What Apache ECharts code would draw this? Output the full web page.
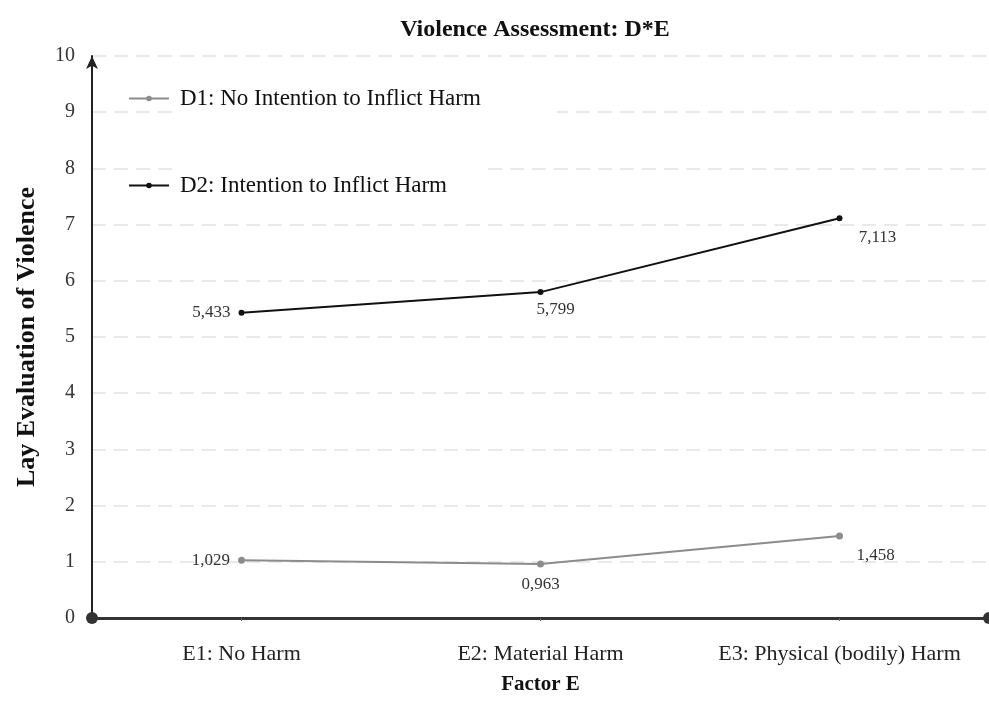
<!DOCTYPE html>
<html>
<head>
<meta charset="utf-8">
<script src="https://cdn.jsdelivr.net/npm/echarts@6/dist/echarts.min.js"></script>
<style>html,body{margin:0;padding:0;background:#fff}#c{width:989px;height:720px}</style>
</head>
<body>
<div id="c"></div>
<script>
var categories = ['E1: No Harm', 'E2: Material Harm', 'E3: Physical (bodily) Harm'];
var seriesNames = ['D1: No Intention to Inflict Harm', 'D2: Intention to Inflict Harm'];
var d1Values = [1.029, 0.963, 1.458];
var d2Values = [5.433, 5.799, 7.113];
var yTicks = [0, 1, 2, 3, 4, 5, 6, 7, 8, 9, 10];

var FONT = '"Liberation Serif", "Times New Roman", serif';
var chart = echarts.init(document.getElementById('c'), null, {renderer: 'canvas'});

function fmt(p) { return String(p.value.toFixed(3)).replace('.', ','); }

var d1Labels = [
  {position: 'left', distance: 8, offset: [0, 0]},
  {position: 'bottom', distance: 9, offset: [0, 0]},
  {position: 'bottom', distance: 7, offset: [36, 0]}
];
var d2Labels = [
  {position: 'left', distance: 8, offset: [0, 0]},
  {position: 'bottom', distance: 6, offset: [15, 0]},
  {position: 'bottom', distance: 8, offset: [38, 0]}
];

function build(vals, labs) {
  return vals.map(function (v, i) {
    return {value: v, label: Object.assign({show: true}, labs[i])};
  });
}

var option = {
  backgroundColor: '#fff',
  animation: false,
  title: {
    text: 'Violence Assessment: D*E',
    left: 530, top: 13, textAlign: 'center',
    textStyle: {fontFamily: FONT, fontWeight: 'bold', fontSize: 24, color: '#111'}
  },
  legend: {
    orient: 'vertical',
    left: 123, top: 82,
    itemWidth: 40, itemHeight: 7,
    itemGap: 64,
    data: seriesNames,
    z: 10,
    textStyle: {fontFamily: FONT, fontSize: 23, color: '#111', padding: [0, 0, 0, 6]}
  },
  grid: {left: 92, right: 0, top: 56, bottom: 102, containLabel: false},
  xAxis: {
    type: 'category',
    data: categories,
    boundaryGap: true,
    name: 'Factor E',
    nameLocation: 'middle',
    nameGap: 56,
    nameTextStyle: {fontFamily: FONT, fontWeight: 'bold', fontSize: 21, color: '#111'},
    axisLine: {show: true, lineStyle: {color: '#333', width: 3}, symbol: ['circle', 'circle'], symbolSize: [12, 12]},
    axisTick: {show: true, alignWithLabel: true, length: 3, lineStyle: {color: '#666'}},
    axisLabel: {fontFamily: FONT, fontSize: 22, color: '#222', margin: 25, interval: 0, hideOverlap: false},
    splitLine: {show: false}
  },
  yAxis: {
    type: 'value',
    min: yTicks[0], max: yTicks[yTicks.length - 1], interval: 1,
    name: 'Lay Evaluation of Violence',
    nameLocation: 'middle',
    nameGap: 52,
    nameTextStyle: {fontFamily: FONT, fontWeight: 'bold', fontSize: 26, color: '#111'},
    axisLine: {show: true, onZero: false, lineStyle: {color: '#222', width: 2}, symbol: ['none', 'arrow'], symbolSize: [9, 13]},
    axisTick: {show: false},
    axisLabel: {fontFamily: FONT, fontSize: 20, color: '#333', margin: 17},
    splitLine: {show: true, lineStyle: {color: '#e2e2e2', type: [14, 8], width: 1.5}}
  },
  graphic: [
    {type: 'rect', z: 5, shape: {x: 172, y: 106, width: 385, height: 12}, style: {fill: '#fff'}},
    {type: 'rect', z: 5, shape: {x: 172, y: 162, width: 310, height: 12}, style: {fill: '#fff'}}
  ],
  series: [
    {
      name: seriesNames[0], type: 'line',
      data: build(d1Values, d1Labels),
      symbol: 'circle', symbolSize: 7,
      lineStyle: {color: '#8c8c8c', width: 2},
      itemStyle: {color: '#8c8c8c'},
      label: {show: true, formatter: fmt, fontFamily: FONT, fontSize: 17, color: '#333'},
      z: 3
    },
    {
      name: seriesNames[1], type: 'line',
      data: build(d2Values, d2Labels),
      symbol: 'circle', symbolSize: 6,
      lineStyle: {color: '#111', width: 2},
      itemStyle: {color: '#111'},
      label: {show: true, formatter: fmt, fontFamily: FONT, fontSize: 17, color: '#333'},
      z: 3
    }
  ]
};
chart.setOption(option);
</script>
</body>
</html>
